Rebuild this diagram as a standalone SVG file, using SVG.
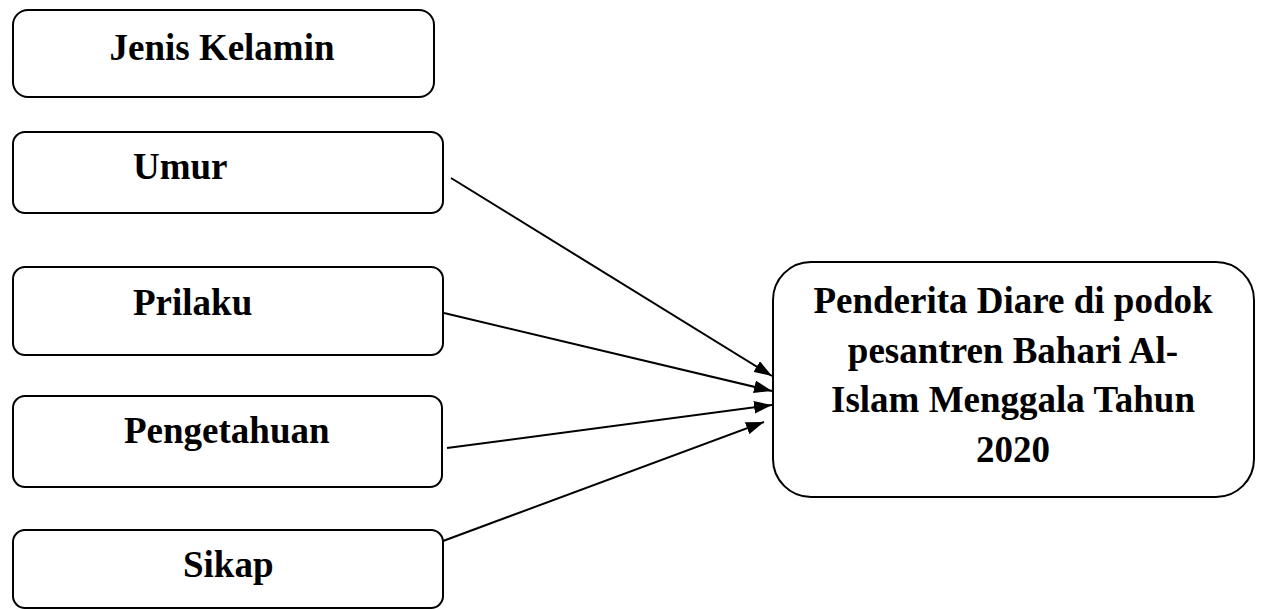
<svg xmlns="http://www.w3.org/2000/svg" width="1261" height="610" viewBox="0 0 1261 610">
<style>
.box{fill:#fff;stroke:#000;stroke-width:2}
.lbl{font-family:"Liberation Serif","Times New Roman",serif;font-weight:bold;font-size:37px;fill:#000}
.c{stroke:#000;stroke-width:2;fill:none}
</style>
<defs>
<marker id="ah" viewBox="0 0 10 7" refX="10" refY="3.5" markerWidth="9" markerHeight="6.3" markerUnits="strokeWidth" orient="auto">
<path d="M0,0 L10,3.5 L0,7 z" fill="#000"/>
</marker>
</defs>
<rect width="1261" height="610" fill="#fff"/>
<g id="n1"><rect class="box" x="13" y="10" width="421" height="87" rx="15"/><text class="lbl" x="222" y="60" text-anchor="middle">Jenis Kelamin</text></g>
<g id="n2"><rect class="box" x="13" y="132" width="430" height="81" rx="12"/><text class="lbl" x="133" y="179">Umur</text></g>
<g id="n3"><rect class="box" x="13" y="267" width="430" height="88" rx="12"/><text class="lbl" x="133" y="315">Prilaku</text></g>
<g id="n4"><rect class="box" x="13" y="396" width="429" height="91" rx="12"/><text class="lbl" x="124" y="443">Pengetahuan</text></g>
<g id="n5"><rect class="box" x="13" y="530" width="430" height="78" rx="12"/><text class="lbl" x="183" y="577">Sikap</text></g>
<g id="n6"><rect class="box" x="773" y="262" width="481" height="235" rx="38"/>
<text class="lbl" text-anchor="middle"><tspan x="1013" y="313">Penderita Diare di podok</tspan><tspan x="1013" y="363">pesantren Bahari Al-</tspan><tspan x="1013" y="412">Islam Menggala Tahun</tspan><tspan x="1013" y="462">2020</tspan></text></g>
<g id="connectors">
<line class="c" x1="451" y1="178" x2="772" y2="376" marker-end="url(#ah)"/>
<line class="c" x1="444" y1="313" x2="772" y2="391" marker-end="url(#ah)"/>
<line class="c" x1="447" y1="448" x2="772" y2="405" marker-end="url(#ah)"/>
<line class="c" x1="443" y1="541" x2="764" y2="422" marker-end="url(#ah)"/>
</g>
</svg>
